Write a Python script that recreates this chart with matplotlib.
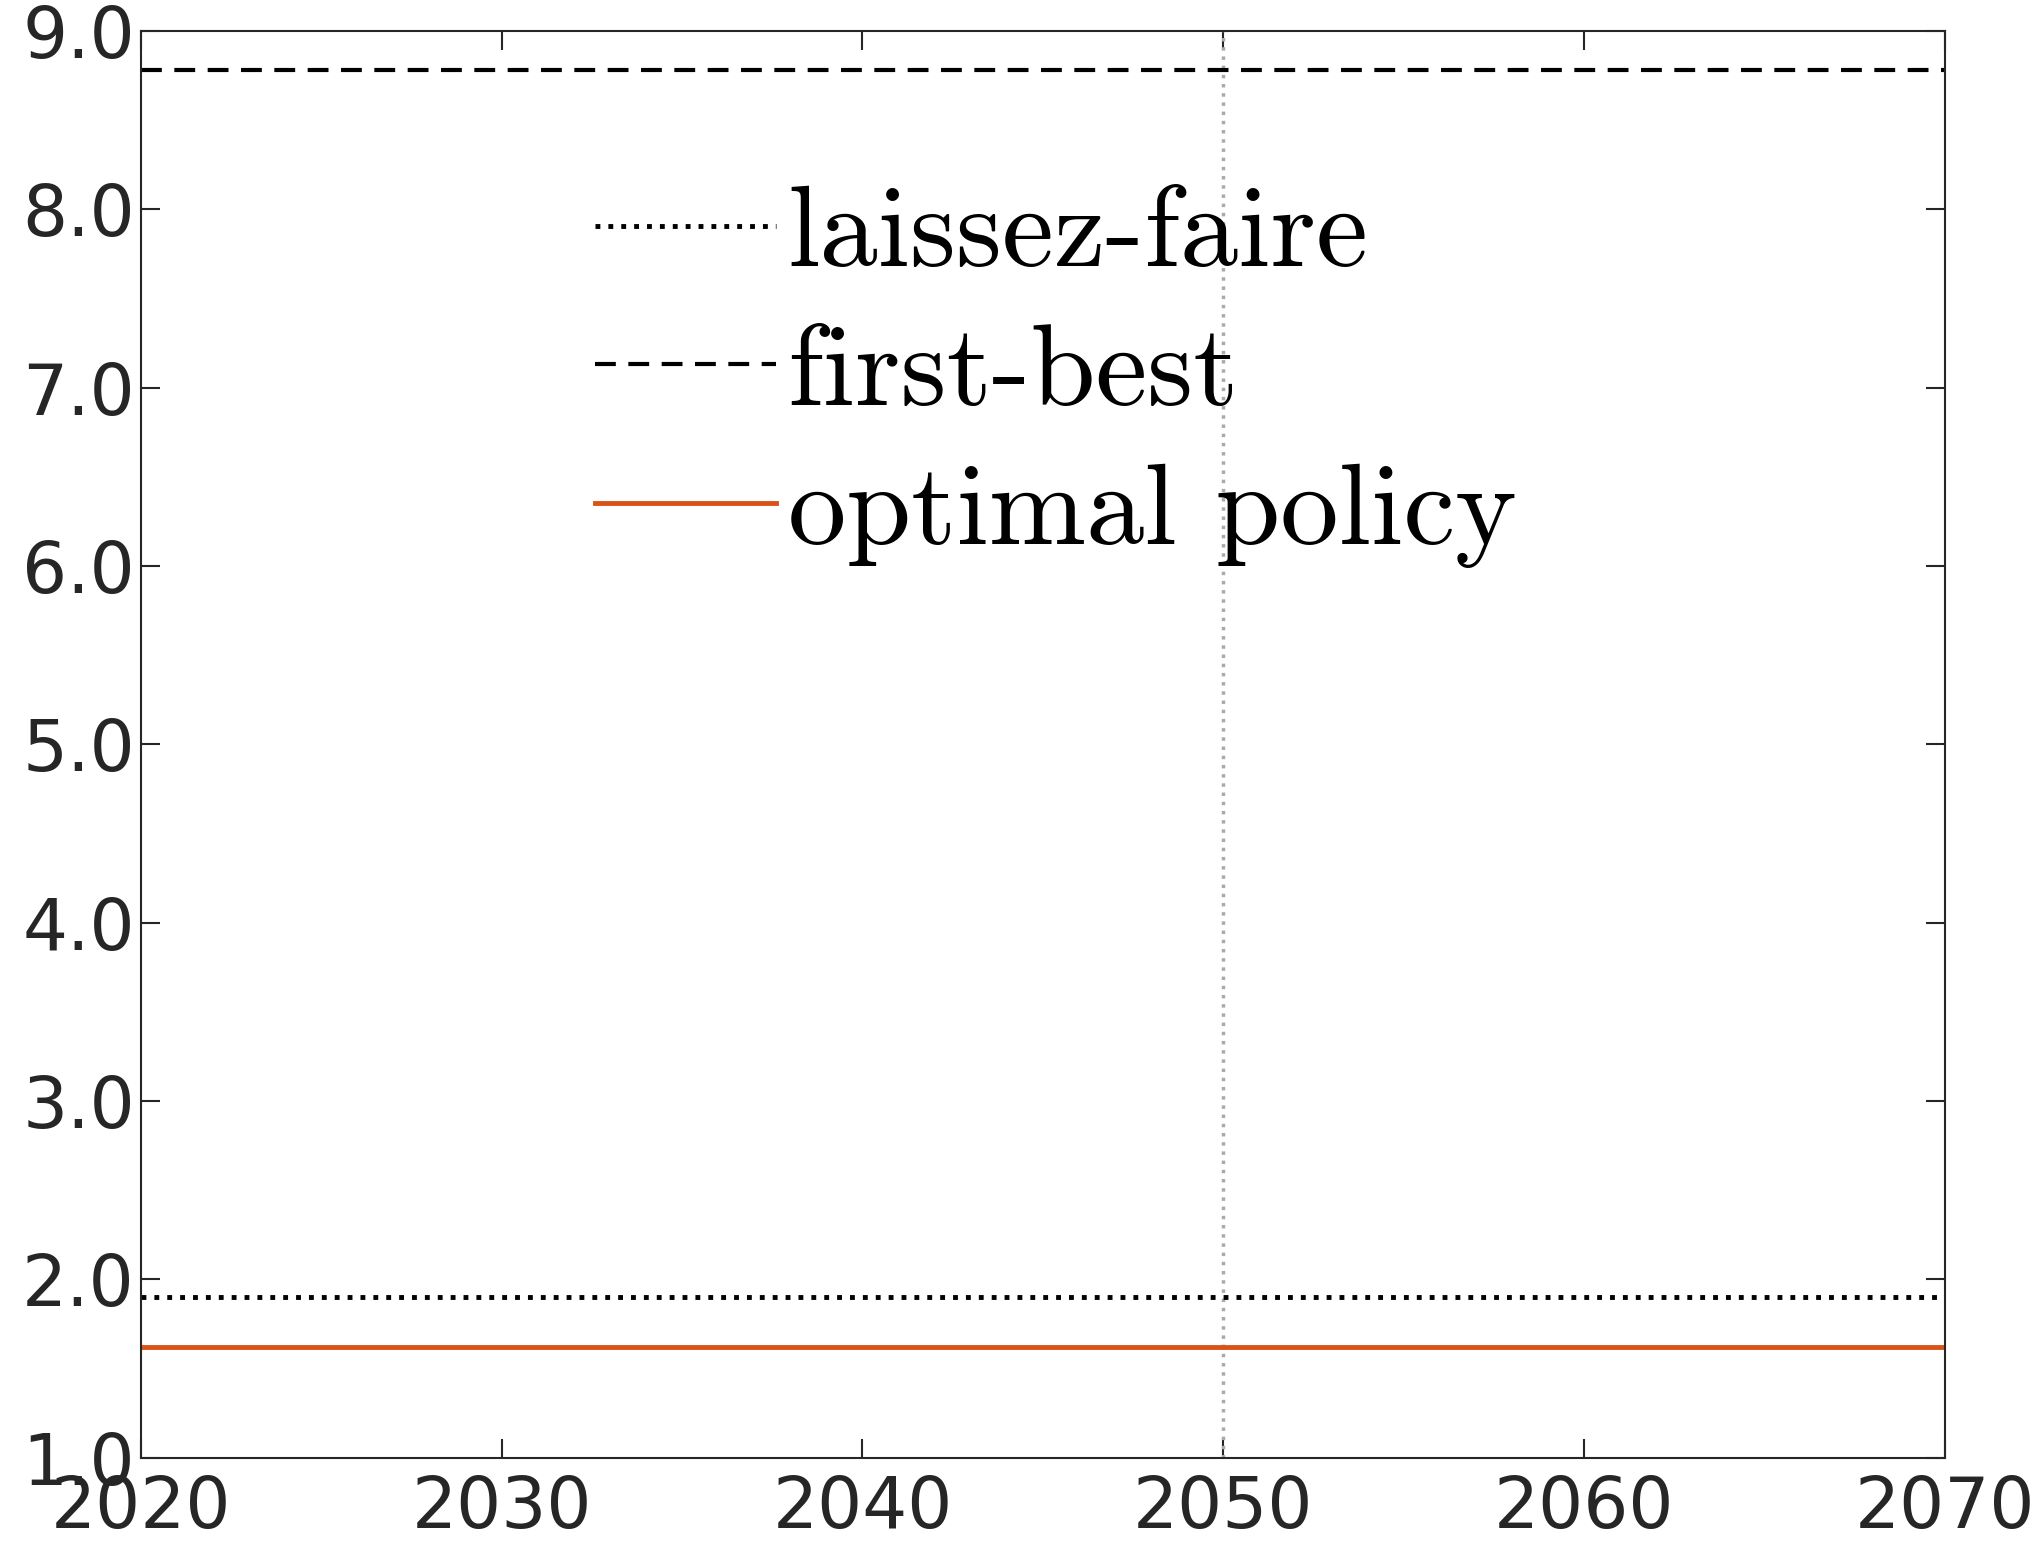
import matplotlib
matplotlib.use("Agg")
import matplotlib.pyplot as plt

years = [2020, 2070]
laissez_faire = [1.9, 1.9]
first_best = [8.78, 8.78]
optimal_policy = [1.62, 1.62]
marker_year = 2050

fig = plt.figure(figsize=(20.37, 15.54), dpi=100)
ax = fig.add_axes([0.069, 0.062, 0.886, 0.918])

ax.axvline(marker_year, color="#aaaaaa", linestyle=":", linewidth=2.5)
ax.plot(years, laissez_faire, color="black", linestyle=":", linewidth=3.5, label="laissez-faire")
ax.plot(years, first_best, color="black", linestyle=(0, (5, 3)), linewidth=3.0, label="first-best")
ax.plot(years, optimal_policy, color="#d95319", linestyle="-", linewidth=3.5, label="optimal policy")

ax.set_xlim(2020, 2070)
ax.set_ylim(1.0, 9.0)
ax.set_xticks(range(2020, 2071, 10))
ax.set_yticks([1.0, 2.0, 3.0, 4.0, 5.0, 6.0, 7.0, 8.0, 9.0])
ax.set_yticklabels(["%.1f" % v for v in ax.get_yticks()])
ax.tick_params(direction="in", length=14, width=1.5, top=True, right=True,
               labelsize=51, colors="#262626")
ax.tick_params(axis="x", pad=12)
ax.tick_params(axis="y", pad=4)
for s in ax.spines.values():
    s.set_linewidth(1.5)
    s.set_color("#262626")

leg = ax.legend(loc="upper left", bbox_to_anchor=(0.226, 0.925), frameon=False,
                prop={"family": "cmr10", "size": 84}, handlelength=1.55,
                handletextpad=0.1, labelspacing=0.3, borderaxespad=0)

fig.savefig("out.png", dpi=100)
